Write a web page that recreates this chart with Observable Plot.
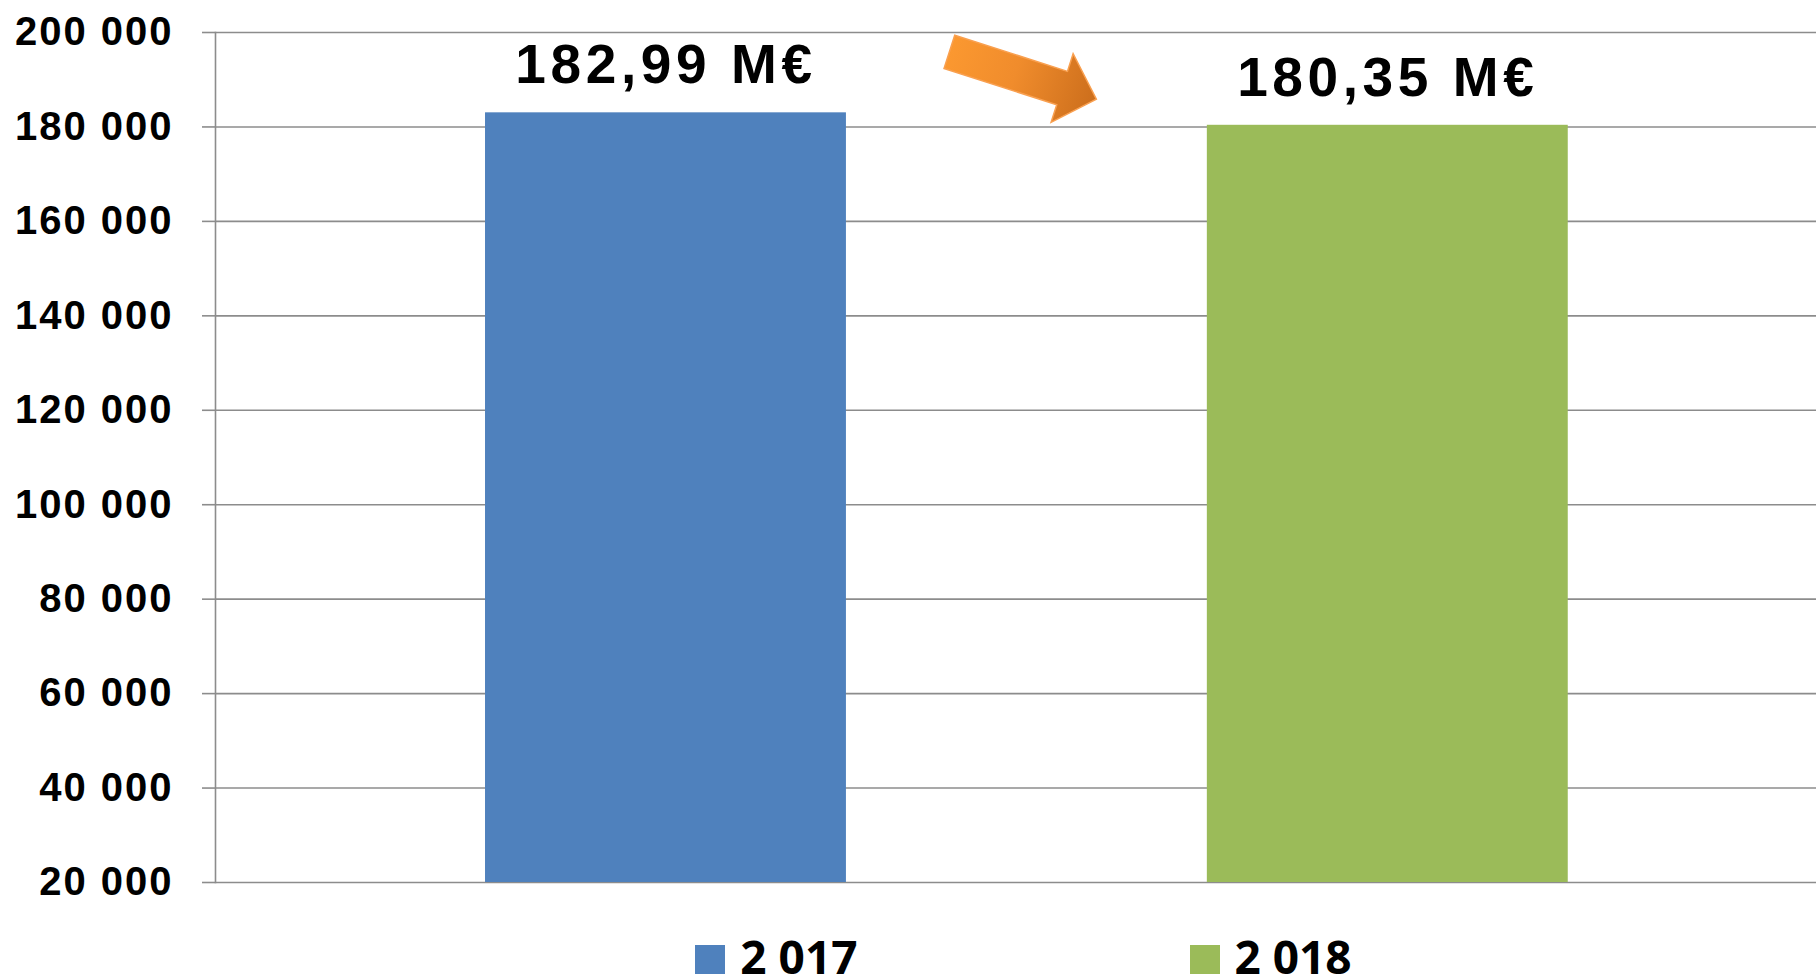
<!DOCTYPE html>
<html>
<head>
<meta charset="utf-8">
<script src="https://cdn.jsdelivr.net/npm/d3@7"></script>
<script src="https://cdn.jsdelivr.net/npm/@observablehq/plot@0.6"></script>
<style>
  html, body { margin: 0; padding: 0; background: #fff; }
  #chart svg { display: block; font-family: "Liberation Sans", Arial, sans-serif; }
  g[aria-label="y-axis tick label"] text { letter-spacing: 2px; }
  g[aria-label="text"] text { letter-spacing: 4.6px; }
  #legend {
    height: 63px; display: flex; justify-content: center; align-items: flex-start;
    box-sizing: border-box; padding-left: 231px;
    gap: 332px; font-family: "Open Sans", "Noto Sans", sans-serif;
    font-weight: bold; font-size: 46px; color: #000;
  }
  #legend .item { display: flex; align-items: flex-start; gap: 15px; margin-top: 18px; line-height: 46px; height: 46px; }
  #legend .sw { width: 30px; height: 29px; display: inline-block; margin-top: 12px; }
</style>
</head>
<body>
<div id="chart"></div>
<div id="legend"></div>
<script>
const years = ["2 017", "2 018"];
const values = [182990, 180350];
const colors = ["#4F81BD", "#9BBB59"];
const yTicks = [20000, 40000, 60000, 80000, 100000, 120000, 140000, 160000, 180000, 200000];
const arrowFromValue = 195800;
const arrowToValue = 185800;

const data = years.map((year, i) => ({year, value: values[i]}));
const fmtTick = d => d3.format(",")(d).replace(/,/g, " ");
const fmtLabel = v => (v / 1000).toFixed(2).replace(".", ",") + " M€";
const gridColor = "#8c8c8c";

function arrowMark(index, scales, vals, dims) {
  const x = scales.x, y = scales.y;
  const bw = typeof x.bandwidth === "function" ? x.bandwidth() : (x.bandwidth || 0);
  const cx = (x(years[0]) + x(years[1])) / 2 + bw / 2;
  const tail = [cx - 77, y(arrowFromValue)];
  const tip = [cx + 70, y(arrowToValue)];
  const dx = tip[0] - tail[0], dy = tip[1] - tail[1];
  const len = Math.hypot(dx, dy);
  const u = [dx / len, dy / len], n = [-u[1], u[0]];
  const sw = 17.5, hw = 36, hl = 36;
  const neck = [tip[0] - u[0] * hl, tip[1] - u[1] * hl];
  const p = (b, k) => [b[0] + n[0] * k, b[1] + n[1] * k];
  const pts = [p(tail, sw), p(neck, sw), p(neck, hw), tip, p(neck, -hw), p(neck, -sw), p(tail, -sw)];
  const g = d3.create("svg:g");
  const grad = g.append("defs").append("linearGradient")
    .attr("id", "arrowGrad").attr("gradientUnits", "userSpaceOnUse")
    .attr("x1", tail[0]).attr("y1", tail[1]).attr("x2", tip[0]).attr("y2", tip[1]);
  grad.append("stop").attr("offset", "0").attr("stop-color", "#FB9830");
  grad.append("stop").attr("offset", "0.45").attr("stop-color", "#F08C2C");
  grad.append("stop").attr("offset", "1").attr("stop-color", "#CC6E1C");
  g.append("polygon")
    .attr("points", pts.map(d => d.join(",")).join(" "))
    .attr("fill", "url(#arrowGrad)")
    .attr("stroke", "#F9A050").attr("stroke-width", 1.5).attr("stroke-linejoin", "miter");
  return g.node();
}

const plot = Plot.plot({
  width: 1816,
  height: 915,
  marginLeft: 215,
  marginRight: 0,
  marginTop: 32,
  marginBottom: 33,
  x: {domain: years, paddingInner: 0.5, paddingOuter: 0.359, align: 0.521, round: false, axis: null},
  y: {domain: [20000, 200000], axis: null},
  color: {domain: years, range: colors},
  marks: [
    Plot.gridY(yTicks, {stroke: gridColor, strokeOpacity: 1, strokeWidth: 1.6}),
    Plot.axisY(yTicks, {
      tickSize: 13, tickPadding: 29, stroke: gridColor, strokeWidth: 1.6, strokeOpacity: 1,
      tickFormat: fmtTick, fontSize: 40, fontWeight: "bold", fill: "#000", label: null
    }),
    Plot.barY(data, {x: "year", y1: 20000, y2: "value", fill: "year"}),
    Plot.frame({anchor: "left", stroke: gridColor, strokeWidth: 1.6}),
    Plot.text(data, {
      x: "year", y: "value", text: d => fmtLabel(d.value), dy: -47,
      fontSize: 55, fontWeight: "bold", fill: "#000", textAnchor: "middle"
    }),
    arrowMark
  ]
});
document.getElementById("chart").appendChild(plot);

const legend = document.getElementById("legend");
years.forEach((year, i) => {
  const item = document.createElement("div");
  item.className = "item";
  const sw = document.createElement("span");
  sw.className = "sw";
  sw.style.background = colors[i];
  const t = document.createElement("span");
  t.textContent = year;
  item.appendChild(sw);
  item.appendChild(t);
  legend.appendChild(item);
});
</script>
</body>
</html>
